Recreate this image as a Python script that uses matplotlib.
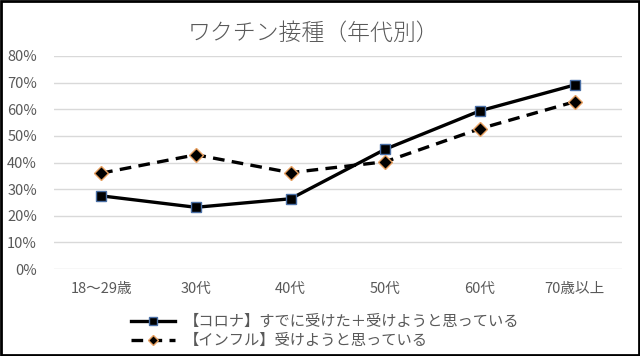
import numpy as np
import matplotlib.pyplot as plt
from matplotlib.patches import Rectangle

plt.rcParams['font.family'] = ['Noto Sans CJK JP', 'DejaVu Sans']

ages = ["18〜29歳", "30代", "40代", "50代", "60代", "70歳以上"]
corona = [0.275, 0.232, 0.264, 0.450, 0.594, 0.691]
influ = [0.360, 0.429, 0.362, 0.403, 0.527, 0.628]

grey = "#595959"

fig = plt.figure(figsize=(6.4, 3.56), dpi=100)
ax = fig.add_axes([0.084, 0.244, 0.888, 0.599])

x = np.arange(len(ages))
ax.plot(x, corona, '-', color='black', lw=2.4, marker='s', ms=7,
        mfc='black', mec='#4a6fa5', mew=1.0,
        label="【コロナ】すでに受けた＋受けようと思っている")
ax.plot(x, influ, '--', color='black', lw=2.4, dashes=(3.5, 2.2), marker='D', ms=7,
        mfc='black', mec='#e8a060', mew=1.0,
        label="【インフル】受けようと思っている")

ax.set_xlim(-0.5, len(ages) - 0.5)
ax.set_ylim(0, 0.8)
ax.set_yticks(np.arange(0, 0.81, 0.1))
ax.set_yticklabels([f"{int(round(v*100))}%" for v in np.arange(0, 0.81, 0.1)])
ax.set_xticks(x)
ax.set_xticklabels(ages)
ax.tick_params(length=0, colors=grey, labelsize=10.5)
ax.tick_params(axis='y', pad=12)
ax.tick_params(axis='x', pad=9)
ax.grid(axis='y', color='#d9d9d9', lw=1)
ax.set_axisbelow(True)
for s in ax.spines.values():
    s.set_visible(False)

fig.text(0.49, 0.905, "ワクチン接種（年代別）", ha='center', va='center',
         fontsize=16.5, color=grey, fontweight='light')

leg = fig.legend(loc='center', bbox_to_anchor=(0.508, 0.07), ncol=1, frameon=False,
                 fontsize=11, handlelength=2.9, handletextpad=0.6, labelspacing=0.15,
                 markerscale=0.8)
for t in leg.get_texts():
    t.set_color(grey)

fig.patches.append(Rectangle((0.0015, 0.002), 0.997, 0.995, transform=fig.transFigure,
                             fill=False, edgecolor='black', lw=2))

fig.savefig("out.png", dpi=100)
